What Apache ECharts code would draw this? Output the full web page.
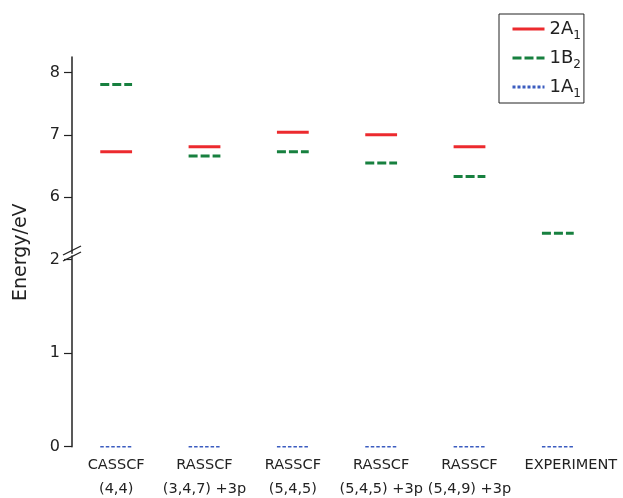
<!DOCTYPE html>
<html><head><meta charset="utf-8">
<script src="https://cdn.jsdelivr.net/npm/echarts@6/dist/echarts.min.js"></script>
<style>html,body{margin:0;padding:0;background:#fff}#c{width:623px;height:498px}</style>
</head><body><div id="c"></div>
<script>
const categories = ['CASSCF\n(4,4)', 'RASSCF\n(3,4,7) +3p', 'RASSCF\n(5,4,5)', 'RASSCF\n(5,4,5) +3p', 'RASSCF\n(5,4,9) +3p', 'EXPERIMENT'];
const state2A1 = [6.73, 6.81, 7.04, 7.00, 6.81, null];
const state1B2 = [7.81, 6.66, 6.73, 6.55, 6.33, 5.42];
const state1A1 = [0, 0, 0, 0, 0, 0];
const upperTicks = [6, 7, 8];
const lowerTicks = [0, 1, 2];
const names = ['2A1', '1B2', '1A1'];

const RED = '#ec2a2e', GREEN = '#17803f', BLUE = '#3b5cc0';
const FONT = 'DejaVu Sans';

function toData(arr) {
  const out = [];
  arr.forEach((v, i) => { if (v !== null) out.push([i, v]); });
  return out;
}
function seg(color, width, dash) {
  return function (params, api) {
    const p = api.coord([api.value(0), api.value(1)]);
    const half = api.size([1, 0])[0] * 0.18;
    return {
      type: 'line',
      shape: { x1: p[0] - half, y1: p[1], x2: p[0] + half, y2: p[1] },
      style: { stroke: color, lineWidth: width, lineDash: dash }
    };
  };
}

const chart = echarts.init(document.getElementById('c'), null, { renderer: 'canvas' });
const yCommon = {
  type: 'value',
  axisLine: { show: true, lineStyle: { color: '#222', width: 1.5 } },
  axisTick: { show: true, length: 8, lineStyle: { color: '#222', width: 1.2 } },
  axisLabel: { color: '#222', fontSize: 16, fontFamily: FONT, margin: 12 },
  splitLine: { show: false }
};
chart.setOption({
  animation: false,
  backgroundColor: '#fff',
  grid: [
    { left: 72, right: 21, top: 57, height: 196.2, outerBoundsMode: 'none', containLabel: false },
    { left: 72, right: 21, top: 256, bottom: 51.3, outerBoundsMode: 'none', containLabel: false }
  ],
  xAxis: [
    { type: 'category', gridIndex: 0, data: categories, show: false, boundaryGap: true },
    { type: 'category', gridIndex: 1, data: categories, boundaryGap: true,
      axisLine: { show: false }, axisTick: { show: false },
      axisLabel: { color: '#222', fontSize: 14.5, fontFamily: FONT, lineHeight: 24, margin: 7, interval: 0,
        formatter: v => v === 'EXPERIMENT' ? '{e|' + v + '}' : v,
        rich: { e: { fontSize: 14.5, fontFamily: FONT, color: '#222', lineHeight: 24, padding: [0, 0, 0, 26] } } } }
  ],
  yAxis: [
    Object.assign({}, yCommon, { gridIndex: 0, min: 5.1, max: 8.25,
      axisTick: Object.assign({}, yCommon.axisTick, { customValues: upperTicks }),
      axisLabel: Object.assign({}, yCommon.axisLabel, { customValues: upperTicks }) }),
    Object.assign({}, yCommon, { gridIndex: 1, min: 0, max: 2.04,
      axisTick: Object.assign({}, yCommon.axisTick, { customValues: lowerTicks }),
      axisLabel: Object.assign({}, yCommon.axisLabel, { customValues: lowerTicks }) })
  ],
  legend: {
    data: names,
    orient: 'vertical',
    left: 499, top: 14,
    padding: [6, 3, 3, 12],
    itemWidth: 32, itemHeight: 14, itemGap: 7,
    borderColor: '#222', borderWidth: 1, borderRadius: 0,
    itemStyle: { opacity: 0, borderWidth: 0 },
    lineStyle: { width: 3 },
    formatter: n => '{m|' + n.slice(0, 2) + '}{s|' + n.slice(2) + '}',
    textStyle: {
      color: '#222', fontFamily: FONT,
      rich: { m: { fontSize: 18, fontFamily: FONT, color: '#222' },
              s: { fontSize: 12, fontFamily: FONT, color: '#222', padding: [14, 0, 0, 0] } }
    }
  },
  graphic: [
    { type: 'text', rotation: Math.PI / 2, x: 12, y: 301,
      style: { text: 'Energy/eV', fontSize: 19, fontFamily: FONT, fill: '#222' } },
    { type: 'line', shape: { x1: 63, y1: 255, x2: 81, y2: 246 }, style: { stroke: '#222', lineWidth: 1.3 } },
    { type: 'line', shape: { x1: 63, y1: 261, x2: 81, y2: 252 }, style: { stroke: '#222', lineWidth: 1.3 } }
  ],
  series: [
    { name: '2A1', type: 'line', data: [], symbol: 'none', xAxisIndex: 0, yAxisIndex: 0,
      itemStyle: { color: RED }, lineStyle: { color: RED, width: 3 } },
    { name: '1B2', type: 'line', data: [], symbol: 'none', xAxisIndex: 0, yAxisIndex: 0,
      itemStyle: { color: GREEN }, lineStyle: { color: GREEN, width: 3, type: [9, 3] } },
    { name: '1A1', type: 'line', data: [], symbol: 'none', xAxisIndex: 0, yAxisIndex: 0,
      itemStyle: { color: BLUE }, lineStyle: { color: BLUE, width: 3, type: [3, 2] } },
    { name: '2A1', type: 'custom', xAxisIndex: 0, yAxisIndex: 0, data: toData(state2A1),
      renderItem: seg(RED, 3, null), itemStyle: { color: RED } },
    { name: '1B2', type: 'custom', xAxisIndex: 0, yAxisIndex: 0, data: toData(state1B2),
      renderItem: seg(GREEN, 3, [9, 3]), itemStyle: { color: GREEN } },
    { name: '1A1', type: 'custom', xAxisIndex: 1, yAxisIndex: 1, data: toData(state1A1),
      renderItem: seg(BLUE, 1.5, [3.5, 2]), itemStyle: { color: BLUE } }
  ]
});
</script></body></html>
